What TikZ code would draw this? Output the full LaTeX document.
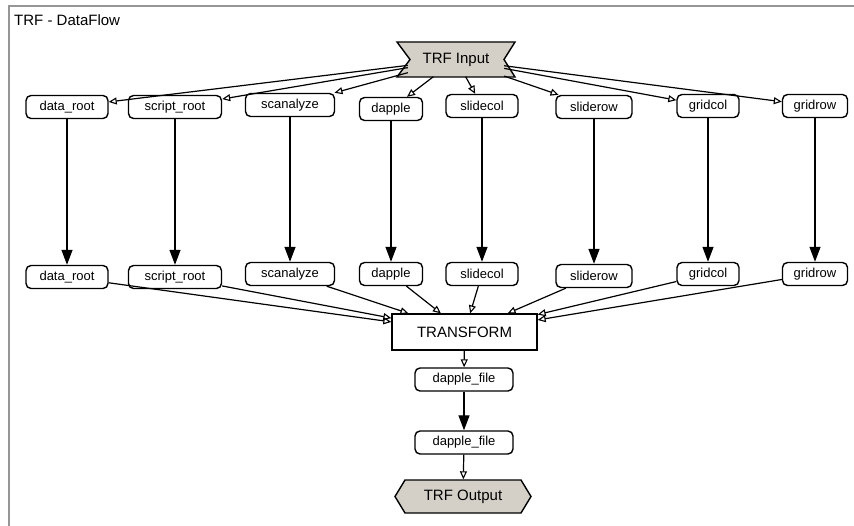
\documentclass[tikz,border=0pt]{standalone}
\usepackage{fontspec}
\setmainfont{Liberation Sans}
\usetikzlibrary{arrows.meta}
\definecolor{termfill}{RGB}{212,208,200}
\definecolor{framegray}{RGB}{150,150,150}

\begin{document}
\begin{tikzpicture}[x=1pt,y=-1pt,
  data/.style={draw, rounded corners=5pt, line width=1.4pt, fill=white,
    font=\fontsize{13}{15}\selectfont, minimum height=23pt, inner sep=0pt},
  proc/.style={draw, line width=1.3pt, fill=white, minimum width=145pt,
    minimum height=36pt, inner sep=0pt, font=\fontsize{15}{18}\selectfont},
  term/.style={minimum height=34pt, inner sep=0pt, font=\fontsize{15}{18}\selectfont},
  termshape/.style={draw, fill=termfill, line width=1.4pt, line join=miter},
  flow/.style={line width=1.3pt, -{Triangle[width=11pt,length=15pt]}},
  feed/.style={line width=1.2pt, -{Triangle[open,width=7pt,length=8pt,line width=1.1pt]}},
]
\useasboundingbox (0,0) rectangle (854,526);
\fill[white] (0,0) rectangle (854,526);

% frame and title
\draw[framegray, line width=1.5pt] (9,527) -- (9,6) -- (855,6);
\node[anchor=base west, inner sep=0pt, font=\fontsize{15}{18}\selectfont] (title) at (14,26) {TRF - DataFlow};

% input terminal (notched on both sides)
\draw[termshape] (397,42) -- (515,42) -- (504,59.5) -- (515,77) -- (397,77) -- (410,59.5) -- cycle;
\node[term, minimum width=96pt] (tin) at (456,59.5) {TRF Input};

% output terminal (pointed on both sides)
\draw[termshape] (405,480) -- (521,480) -- (531,496.5) -- (521,513) -- (405,513) -- (395,496.5) -- cycle;
\node[term, minimum width=136pt] (tout) at (463,496.5) {TRF Output};

% upper row of data stores
\node[data, minimum width=82pt] (a1) at (67,107) {data\_root};
\node[data, minimum width=93pt] (b1) at (175,107) {script\_root};
\node[data, minimum width=89pt] (c1) at (290,105) {scanalyze};
\node[data, minimum width=63pt] (d1) at (391,109) {dapple};
\node[data, minimum width=72pt] (e1) at (482,106) {slidecol};
\node[data, minimum width=76pt] (f1) at (594,107) {sliderow};
\node[data, minimum width=62pt] (g1) at (708,106) {gridcol};
\node[data, minimum width=65pt] (h1) at (815,106) {gridrow};

% lower row of data stores
\node[data, minimum width=82pt] (a2) at (67,277) {data\_root};
\node[data, minimum width=93pt] (b2) at (175,277) {script\_root};
\node[data, minimum width=89pt] (c2) at (290,274) {scanalyze};
\node[data, minimum width=63pt] (d2) at (391,274) {dapple};
\node[data, minimum width=72pt] (e2) at (482,274) {slidecol};
\node[data, minimum width=76pt] (f2) at (594,276) {sliderow};
\node[data, minimum width=62pt] (g2) at (708,274) {gridcol};
\node[data, minimum width=65pt] (h2) at (815,274) {gridrow};

% process and its output files
\node[proc] (tr) at (464.5,332) {TRANSFORM};
\node[data, minimum width=98pt] (df1) at (464,379.5) {dapple\_file};
\node[data, minimum width=98pt] (df2) at (464,442.5) {dapple\_file};

% input fan-out
\foreach \n in {a1,b1,c1,d1,e1,f1,g1,h1}
  \draw[feed] (tin) -- (\n);

% column flows
\draw[flow] (a1) -- (a2);
\draw[flow] (b1) -- (b2);
\draw[flow] (c1) -- (c2);
\draw[flow] (d1) -- (d2);
\draw[flow] (e1) -- (e2);
\draw[flow] (f1) -- (f2);
\draw[flow] (g1) -- (g2);
\draw[flow] (h1) -- (h2);

% fan-in to the transform
\foreach \n in {a2,b2,c2,d2,e2,f2,g2,h2}
  \draw[feed] (\n) -- (tr);

% output chain
\draw[feed] (tr) -- (df1);
\draw[flow] (df1) -- (df2);
\draw[feed] (df2) -- (tout);
\end{tikzpicture}
\end{document}
